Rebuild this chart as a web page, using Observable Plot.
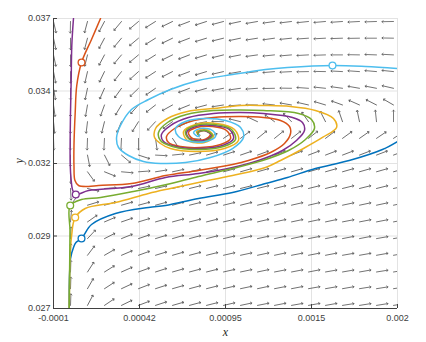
<!DOCTYPE html>
<html><head><meta charset="utf-8">
<script src="https://cdn.jsdelivr.net/npm/d3@7"></script>
<script src="https://cdn.jsdelivr.net/npm/@observablehq/plot@0.6"></script>
<style>body{margin:0;background:#fff;} svg{display:block;}</style>
</head><body><div id="chart"></div>
<script>
// Axis ticks
const xTicks = [-0.0001, 0.000425, 0.00095, 0.001475, 0.002];
const xTickLabels = ["-0.0001", "0.00042", "0.00095", "0.0015", "0.002"];
const yTicks = [0.027, 0.0295, 0.032, 0.0345, 0.037];
const yTickLabels = ["0.027", "0.029", "0.032", "0.034", "0.037"];

// Direction field grid (x, y) and arrow directions (degrees, counter-clockwise from +x on screen)
const gridX = [-0.0001, 0.0000038, 0.0001076, 0.0002113, 0.0003151, 0.0004189, 0.0005227, 0.0006265, 0.0007302, 0.000834, 0.0009378, 0.0010416, 0.0011454, 0.0012491, 0.0013529, 0.0014567, 0.0015605, 0.0016643, 0.001768, 0.0018718, 0.0019756];
const gridY = [0.036897, 0.036321, 0.035745, 0.035169, 0.034593, 0.034018, 0.033442, 0.032866, 0.03229, 0.031714, 0.031138, 0.030562, 0.029986, 0.02941, 0.028835, 0.028259, 0.027683, 0.027107];
const fieldAngles = [
  [-77, -91, -105, -118, -130, -140, -148, -154, -159, -162, -165, -168, -170, -172, -173, -174, -175, -176, -177, -178, -179],
  [-78, -90, -105, -118, -130, -140, -148, -154, -159, -163, -166, -168, -171, -172, -174, -176, -177, -178, -179, 180, 179],
  [-78, -90, -104, -118, -130, -140, -148, -154, -159, -163, -166, -169, -172, -174, -175, -177, -178, 180, 179, 178, 177],
  [-79, -90, -103, -116, -128, -138, -147, -153, -159, -163, -167, -170, -173, -175, -177, -179, 179, 177, 176, 175, 174],
  [-80, -90, -102, -114, -126, -136, -145, -153, -159, -164, -169, -172, -176, -179, 179, 176, 174, 172, 170, 169, 167],
  [-82, -90, -100, -110, -121, -132, -142, -151, -158, -165, -171, -176, 179, 174, 170, 167, 163, 160, 156, 153, 150],
  [-84, -90, -97, -104, -113, -122, -133, -144, -156, -169, 179, 166, 155, 144, 134, 125, 117, 109, 102, 96, 90],
  [-88, -90, -92, -93, -93, -90, -82, -56, -4, 24, 34, 37, 39, 39, 38, 38, 37, 36, 35, 34, 33],
  [-95, -90, -79, -63, -40, -18, -3, 6, 12, 16, 18, 19, 20, 21, 21, 21, 21, 21, 21, 21, 21],
  [-109, -89, -54, -22, -5, 4, 9, 12, 13, 15, 15, 16, 16, 16, 16, 16, 16, 16, 16, 16, 16],
  [-133, -87, -13, 4, 9, 12, 13, 14, 14, 14, 14, 14, 14, 14, 14, 14, 14, 14, 14, 14, 13],
  [-166, 53, 17, 16, 16, 15, 15, 15, 14, 14, 14, 14, 13, 13, 13, 13, 13, 12, 12, 12, 12],
  [167, 85, 35, 23, 19, 17, 16, 15, 14, 14, 13, 13, 13, 12, 12, 12, 12, 11, 11, 11, 11],
  [152, 87, 47, 27, 22, 19, 17, 16, 15, 14, 13, 13, 12, 12, 12, 11, 11, 11, 11, 10, 10],
  [143, 88, 53, 30, 23, 20, 17, 16, 15, 14, 13, 12, 12, 12, 11, 11, 11, 10, 10, 10, 10],
  [138, 88, 57, 32, 24, 20, 18, 16, 15, 14, 13, 12, 12, 11, 11, 11, 10, 10, 10, 9, 9],
  [134, 88, 60, 33, 25, 21, 18, 16, 15, 14, 13, 12, 12, 11, 11, 10, 10, 10, 9, 9, 9],
  [131, 88, 62, 34, 26, 21, 18, 16, 15, 14, 13, 12, 11, 11, 10, 10, 10, 9, 9, 9, 9]
];

// Trajectories [x, y]
const trajBlue = [[-0.0000042,0.027],[-0.000004,0.027724],[-0.000001,0.02831],[0.0000038,0.028724],[0.000022,0.029103],[0.000037,0.029276],[0.000071,0.029414],[0.000132,0.029897],[0.000278,0.030276],[0.00048,0.030483],[0.000584,0.030552],[0.000785,0.030793],[0.000993,0.031],[0.001194,0.03131],[0.001328,0.031517],[0.001499,0.031828],[0.001705,0.032103],[0.001908,0.032483],[0.002,0.032759]];
const trajOrange = [[0.000187,0.037],[0.000132,0.036276],[0.000071,0.035483],[0.000042,0.03469],[0.0000325,0.033759],[0.000025,0.03262],[0.000025,0.031931],[0.000031,0.031414],[0.000053,0.031241],[0.000114,0.031207],[0.000175,0.031241],[0.000376,0.03131],[0.000584,0.031586],[0.000785,0.031759],[0.000993,0.031966],[0.00109,0.032103],[0.001225,0.032379],[0.00131,0.03269],[0.001347,0.033034],[0.001341,0.033276],[0.001286,0.033483],[0.001182,0.033586],[0.001042,0.033621],[0.000877,0.033586],[0.000736,0.033448],[0.000639,0.033207],[0.00059,0.032931],[0.000602,0.032724],[0.000675,0.032586],[0.000797,0.032552],[0.00092,0.032655],[0.000981,0.032862],[0.000956,0.033138],[0.000871,0.033276],[0.000773,0.033241],[0.000724,0.033069],[0.000749,0.032862],[0.000822,0.032828],[0.000858,0.033],[0.000816,0.033138],[0.000779,0.033034],[0.000791,0.032966]];
const trajYellow = [[-0.000004,0.027],[-0.000001,0.02831],[0.0000038,0.029103],[0.0000142,0.02969],[0.000019,0.029897],[0.0000325,0.030138],[0.0000935,0.030448],[0.000278,0.030655],[0.00048,0.030966],[0.000614,0.031138],[0.000785,0.031345],[0.000993,0.031586],[0.001194,0.031862],[0.001286,0.032103],[0.001426,0.032517],[0.001542,0.032897],[0.001628,0.033241],[0.001609,0.033552],[0.001499,0.033828],[0.001347,0.033966],[0.001182,0.034],[0.001042,0.034],[0.000877,0.033897],[0.000718,0.033793],[0.000596,0.033552],[0.000523,0.033207],[0.000517,0.032897],[0.000553,0.03269],[0.000614,0.032517],[0.000767,0.032414],[0.000944,0.032517],[0.001029,0.032793],[0.001005,0.033172],[0.000895,0.033379],[0.000767,0.033345],[0.000694,0.033103],[0.000718,0.032793],[0.000822,0.032724],[0.000877,0.032931],[0.000834,0.033172],[0.000773,0.033103],[0.000791,0.032966]];
const trajPurple = [[0.000022,0.037],[0.0000117,0.036069],[0.000008,0.034897],[0.0000038,0.033759],[0.000002,0.031966],[0.000008,0.031414],[0.0000178,0.031069],[0.000036,0.030931],[0.000114,0.031069],[0.000376,0.031207],[0.000584,0.031517],[0.000785,0.031655],[0.000993,0.031862],[0.001151,0.032103],[0.001298,0.032448],[0.001383,0.032793],[0.001432,0.033138],[0.00142,0.033414],[0.001359,0.033586],[0.001182,0.033724],[0.001042,0.033759],[0.000877,0.033724],[0.000724,0.033586],[0.000614,0.03331],[0.000559,0.033],[0.000572,0.032759],[0.000645,0.032586],[0.000785,0.032517],[0.000932,0.032621],[0.000999,0.032862],[0.000974,0.033172],[0.000877,0.03331],[0.000767,0.033276],[0.000712,0.033069],[0.000736,0.032828],[0.000822,0.032793],[0.000865,0.032966],[0.000822,0.033138],[0.000779,0.033069],[0.000791,0.032966]];
const trajGreen = [[-0.000004,0.027],[-0.000001,0.028655],[0.0000007,0.02969],[0.000002,0.030552],[0.000071,0.030759],[0.000187,0.030828],[0.000388,0.031034],[0.00059,0.031276],[0.000785,0.031552],[0.000993,0.031828],[0.001176,0.032103],[0.001335,0.032448],[0.001438,0.032828],[0.001493,0.033207],[0.001475,0.033517],[0.001396,0.033724],[0.001182,0.033828],[0.001042,0.033845],[0.000877,0.033828],[0.000712,0.03369],[0.000596,0.033414],[0.000541,0.033069],[0.000553,0.032793],[0.000626,0.032586],[0.000773,0.032483],[0.000938,0.032586],[0.001011,0.032828],[0.000987,0.033172],[0.000883,0.033345],[0.000767,0.03331],[0.000706,0.033103],[0.00073,0.032828],[0.000822,0.032759],[0.000871,0.032966],[0.000828,0.033138],[0.000779,0.033069],[0.000791,0.032966]];
const trajCyan = [[0.002,0.035276],[0.001805,0.035345],[0.001603,0.03538],[0.001328,0.03531],[0.001194,0.035241],[0.000993,0.035069],[0.000785,0.034862],[0.000614,0.034552],[0.00048,0.034207],[0.000376,0.033862],[0.000309,0.03331],[0.000285,0.032897],[0.000297,0.032552],[0.000358,0.032276],[0.000449,0.032069],[0.000553,0.032],[0.000706,0.032034],[0.000858,0.032207],[0.000993,0.032517],[0.00106,0.032897],[0.001042,0.033241],[0.00095,0.033483],[0.000828,0.033552],[0.000706,0.033448],[0.000645,0.033207],[0.000663,0.032931],[0.000736,0.032759],[0.000828,0.032759],[0.000889,0.032931],[0.000871,0.033138],[0.000797,0.033207],[0.000755,0.033069],[0.000785,0.032931],[0.000791,0.033]];

// Initial points (circles)
const startNames = ["blue", "orange", "yellow", "purple", "green", "cyan"];
const startX = [0.000071, 0.000071, 0.0000325, 0.000036, 0.000002, 0.001603];
const startY = [0.029414, 0.035483, 0.030138, 0.030931, 0.030552, 0.03538];
const colors = {blue: "#0072BD", orange: "#D95319", yellow: "#EDB120", purple: "#7E2F8E", green: "#77AC30", cyan: "#4DBEEE"};

const arrows = gridY.flatMap((y, r) => gridX.map((x, c) => ({x, y, angle: fieldAngles[r][c]})));
const toRows = (arr) => arr.map(([x, y]) => ({x, y}));
const trajectories = [
  ["blue", trajBlue], ["orange", trajOrange], ["yellow", trajYellow],
  ["purple", trajPurple], ["green", trajGreen], ["cyan", trajCyan]
];
const starts = startNames.map((n, i) => ({name: n, x: startX[i], y: startY[i]}));

const W = 426, H = 342, mL = 53, mR = 29, mT = 18, mB = 34;
const font = "'Liberation Sans', Arial, sans-serif";

const plot = Plot.plot({
  width: W, height: H,
  marginLeft: mL, marginRight: mR, marginTop: mT, marginBottom: mB,
  style: {fontFamily: font, fontSize: "9px", color: "#404040", background: "white"},
  x: {domain: [-0.0001, 0.002]},
  y: {domain: [0.027, 0.037]},
  marks: [
    Plot.gridX(xTicks, {stroke: "#e3e3e3", strokeOpacity: 1, strokeWidth: 1}),
    Plot.gridY(yTicks, {stroke: "#e3e3e3", strokeOpacity: 1, strokeWidth: 1}),
    Plot.vector(arrows, {
      x: "x", y: "y", rotate: d => 90 - d.angle, length: 11.5, anchor: "start",
      r: 1.6, stroke: "#5a5a5a", strokeWidth: 0.8, clip: true
    }),
    ...trajectories.map(([name, pts]) => Plot.line(toRows(pts), {
      x: "x", y: "y", stroke: colors[name], strokeWidth: 1.5, curve: "catmull-rom", clip: true
    })),
    Plot.dot(starts, {x: "x", y: "y", r: 3.4, fill: "white", stroke: d => colors[d.name], strokeWidth: 1.3}),
    Plot.ruleX([-0.0001], {stroke: "#404040", strokeWidth: 1}),
    Plot.ruleY([0.027], {stroke: "#404040", strokeWidth: 1}),
    Plot.ruleX(xTicks, {stroke: "#404040", insetTop: H - mT - mB - 4}),
    Plot.ruleY(yTicks, {stroke: "#404040", insetRight: W - mL - mR - 4}),
    Plot.axisX({ticks: xTicks, tickFormat: (d, i) => xTickLabels[i], tickSize: 0, tickPadding: 6, label: null, fontSize: 9}),
    Plot.axisY({ticks: yTicks, tickFormat: (d, i) => yTickLabels[i], tickSize: 0, tickPadding: 3, label: null, fontSize: 9}),
    Plot.text(["x"], {frameAnchor: "bottom", dy: 24, lineAnchor: "middle", text: d => d, fontStyle: "italic", fontFamily: "'Liberation Serif', serif", fontSize: 12, fill: "#262626"}),
    Plot.text(["y"], {frameAnchor: "left", dx: -34, lineAnchor: "middle", rotate: -90, text: d => d, fontStyle: "italic", fontFamily: "'Liberation Serif', serif", fontSize: 12, fill: "#262626"})
  ]
});
document.getElementById("chart").appendChild(plot);
</script></body></html>
